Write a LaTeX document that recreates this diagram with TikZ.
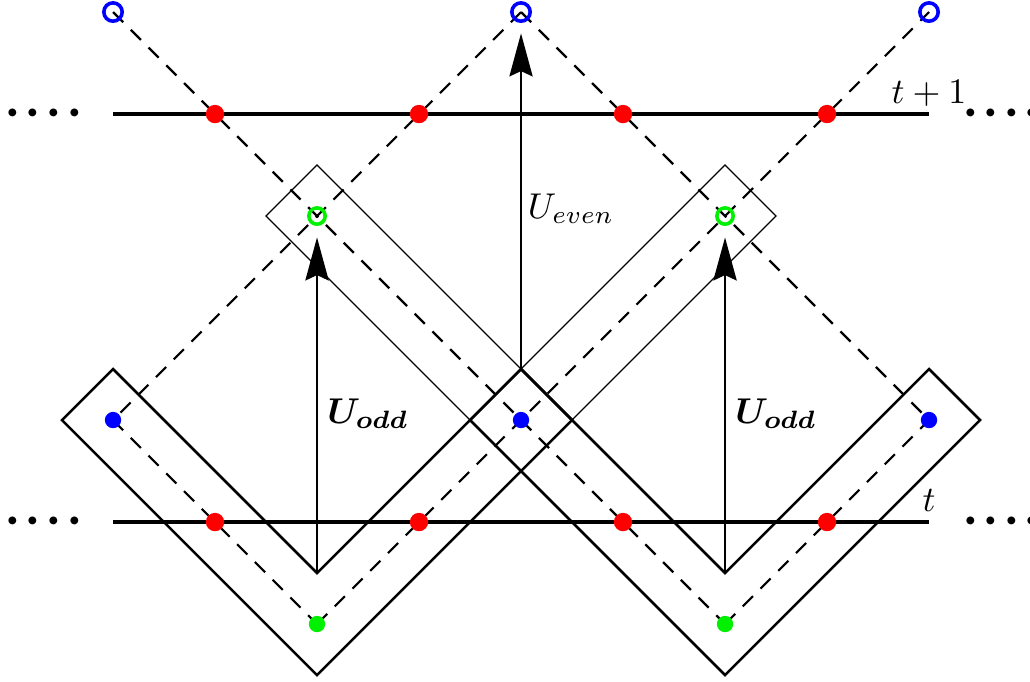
\documentclass[tikz,border=0pt]{standalone}
\usepackage{bm}
\usetikzlibrary{arrows.meta}
\definecolor{dotred}{RGB}{255,0,0}
\definecolor{dotblue}{RGB}{0,0,255}
\definecolor{dotgreen}{RGB}{0,240,0}
\begin{document}
\begin{tikzpicture}[
  dashline/.style={dash pattern=on 4pt off 3pt, line width=0.6pt},
  vbox/.style={line width=0.7pt, line join=miter},
  thinbox/.style={line width=0.35pt},
  timeline/.style={line width=1.3pt},
  reddot/.style={circle, fill=dotred, inner sep=0pt, minimum size=0.18cm},
  bluedot/.style={circle, fill=dotblue, inner sep=0pt, minimum size=0.16cm},
  greendot/.style={circle, fill=dotgreen, inner sep=0pt, minimum size=0.16cm},
  blueopen/.style={circle, draw=dotblue, line width=1.0pt, inner sep=0pt, minimum size=0.18cm},
  greenopen/.style={circle, draw=dotgreen, line width=1.0pt, inner sep=0pt, minimum size=0.16cm},
  uarrow/.style={-{Stealth[length=12pt,width=6.5pt,inset=1.5pt]}, shorten >=0.21cm},
  dotsnode/.style={anchor=base, font=\fontsize{19.8}{22}\selectfont, inner sep=0pt, yshift=-4.95pt},
  lab/.style={anchor=base, inner sep=0pt}
]
\useasboundingbox (-1.108,-1.559) rectangle (8.990,5.118);
% points
\coordinate (b0) at (0,1);
\coordinate (b1) at (4,1);
\coordinate (b2) at (8,1);
\coordinate (B0) at (0,5);
\coordinate (B1) at (4,5);
\coordinate (B2) at (8,5);
\coordinate (g0) at (2,-1);
\coordinate (g1) at (6,-1);
\coordinate (G0) at (2,3);
\coordinate (G1) at (6,3);
\coordinate (tL) at (0,0);
\coordinate (tR) at (8,0);
\coordinate (TL) at (0,4);
\coordinate (TR) at (8,4);
\coordinate (v0) at (2,-0.5);
\coordinate (v1) at (6,-0.5);
\coordinate (vtop) at (4,1.5);
% dashed world lines
\draw[dashline] (b0) -- (g0);
\draw[dashline] (g0) -- (B2);
\draw[dashline] (B0) -- (g1);
\draw[dashline] (g1) -- (b2);
\draw[dashline] (B1) -- (b0);
\draw[dashline] (B1) -- (b2);
% V boxes
\draw[vbox] (0,1.5) -- (v0) -- (vtop) -- (4.5,1) -- (2,-1.5) -- (-0.5,1) -- cycle;
\draw[vbox] (vtop) -- (v1) -- (8,1.5) -- (8.5,1) -- (6,-1.5) -- (3.5,1) -- cycle;
% thin boxes
\draw[thinbox] (1.5,3) -- (2,3.5) -- (4.5,1) -- (4,0.5) -- cycle;
\draw[thinbox] (6.5,3) -- (6,3.5) -- (3.5,1) -- (4,0.5) -- cycle;
% time lines
\draw[timeline] (tL) -- (tR);
\draw[timeline] (TL) -- (TR);
% arrows
\draw[uarrow, line width=0.6pt] (v0) -- (G0);
\draw[uarrow, line width=0.6pt] (v1) -- (G1);
\draw[uarrow, line width=0.4pt] (vtop) -- (B1);
% dots
\foreach \x/\n in {1/1,3/2,5/3,7/4}{
  \node[reddot] (r\n) at (\x,0) {};
  \node[reddot] (R\n) at (\x,4) {};
}
\node[bluedot] (nb0) at (b0) {};
\node[bluedot] (nb1) at (b1) {};
\node[bluedot] (nb2) at (b2) {};
\node[greendot] (ng0) at (g0) {};
\node[greendot] (ng1) at (g1) {};
\node[blueopen] (nB0) at (B0) {};
\node[blueopen] (nB1) at (B1) {};
\node[blueopen] (nB2) at (B2) {};
\node[greenopen] (nG0) at (G0) {};
\node[greenopen] (nG1) at (G1) {};
% labels
\node[lab] (lt1) at (8.0,4.10) {$t+1$};
\node[lab] (lt) at (8.0,0.10) {$t$};
\node[lab] (lue) at (4.49,2.98) {$U_{even}$};
\node[lab] (luo1) at (2.5,0.97) {$\bm{U_{odd}}$};
\node[lab] (luo2) at (6.5,0.97) {$\bm{U_{odd}}$};
% dots
\node[dotsnode] (dl0) at (-0.68,0) {$\cdotp\!\cdotp\!\cdotp\!\cdotp$};
\node[dotsnode] (dl1) at (-0.68,4) {$\cdotp\!\cdotp\!\cdotp\!\cdotp$};
\node[dotsnode] (dr0) at (8.71,0) {$\cdotp\!\cdotp\!\cdotp\!\cdotp$};
\node[dotsnode] (dr1) at (8.71,4) {$\cdotp\!\cdotp\!\cdotp\!\cdotp$};
\end{tikzpicture}
\end{document}
